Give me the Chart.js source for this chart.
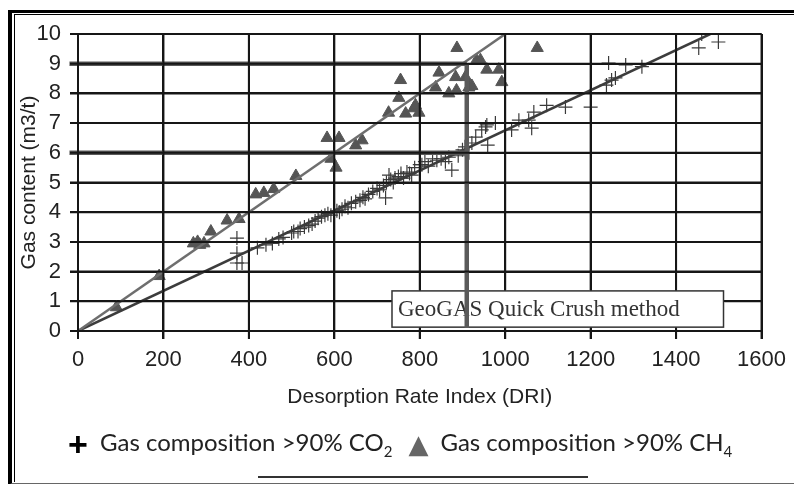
<!DOCTYPE html>
<html>
<head>
<meta charset="utf-8">
<script src="https://cdn.jsdelivr.net/npm/chart.js@4"></script>
<style>
  body { margin: 0; background: #fff; }
  #wrap { position: relative; width: 794px; height: 484px; overflow: hidden; }
  #frame { position: absolute; left: 8px; top: 10px; width: 820px; height: 470px;
           border-left: 4px solid #000; border-top: 3px solid #000; border-bottom: 2px solid #666; }
  #frame2 { position: absolute; left: 14px; top: 13.5px; width: 820px; height: 467px;
            border-left: 1.5px solid #000; border-top: 1.5px solid #000; }
  #chart { position: absolute; left: 0; top: 0; }
  #legend { position: absolute; left: 66px; top: 427px; display: flex; align-items: center;
            font-family: Lato, "Open Sans", sans-serif; font-size: 24px; color: #222; }
  #legend .item { display: flex; align-items: center; margin-right: 14px; }
  #legend .mk { display: inline-block; width: 24px; text-align: center; margin-right: 10px; }
  #legend sub { font-size: 15px; vertical-align: -6px; }
  #rule { position: absolute; left: 258px; top: 476px; width: 330px; height: 2px; background: #333; }
</style>
</head>
<body>
<div id="wrap">
  <div id="frame"></div>
  <div id="frame2"></div>
  <canvas id="chart" width="794" height="484"></canvas>
  <div id="legend"></div>
  <div id="rule"></div>
</div>
<script>
// CO2 rich samples (plus markers)
const co2X = [372, 372, 372, 384, 420, 440, 455, 470, 480, 500, 505, 515, 520, 530, 540, 548, 555, 562, 570, 578,
  585, 592, 600, 606, 612, 618, 625, 632, 640, 650, 660, 667, 672, 680, 690, 700, 706, 715, 720, 722,
  728, 732, 738, 742, 750, 756, 762, 770, 776, 781, 788, 800, 805, 812, 820, 830, 840, 850, 860, 868,
  875, 890, 900, 906, 915, 922, 931, 945, 954, 957, 959, 977, 1015, 1032, 1055, 1062, 1067, 1097, 1141, 1200,
  1200, 1237, 1249, 1258, 1242, 1282, 1320, 1453, 1460, 1499];
const co2Y = [3.13, 2.62, 2.29, 2.29, 2.8, 2.9, 2.95, 3.1, 3.15, 3.3, 3.35, 3.35, 3.45, 3.5, 3.55, 3.6, 3.7, 3.8, 3.85, 3.9,
  3.95, 3.9, 4.0, 4.05, 4.0, 4.1, 4.2, 4.15, 4.3, 4.35, 4.4, 4.5, 4.45, 4.6, 4.7, 4.8, 4.75, 4.9, 4.48, 5.0,
  5.25, 5.1, 5.0, 5.15, 5.2, 5.3, 5.15, 5.35, 5.3, 5.25, 5.5, 5.6, 5.6, 5.7, 5.55, 5.8, 5.75, 5.8, 5.7, 5.85,
  5.42, 5.9, 6.1, 6.2, 6.0, 6.33, 6.53, 6.77, 6.87, 6.94, 6.26, 7.0, 6.77, 7.1, 7.1, 6.83, 7.37, 7.6, 7.54, 8.0,
  7.54, 8.28, 8.45, 8.52, 9.02, 8.96, 8.9, 9.53, 10.0, 9.73];

// CH4 rich samples (triangles)
const ch4X = [90, 190, 270, 280, 285, 295, 311, 349, 377, 416, 435, 458, 510, 583, 592, 604, 611, 650, 665, 727,
  751, 755, 767, 786, 790, 798, 837, 845, 868, 884, 886, 887, 907, 915, 922, 933, 942, 957, 985, 992, 1075];
const ch4Y = [0.8, 1.85, 2.95, 3.0, 2.9, 2.95, 3.35, 3.72, 3.77, 4.6, 4.65, 4.78, 5.22, 6.5, 5.8, 5.5, 6.5, 6.25, 6.42, 7.35,
  7.85, 8.45, 7.32, 7.5, 7.6, 7.35, 8.2, 8.7, 8.0, 8.55, 8.1, 9.53, 8.55, 8.2, 8.25, 9.12, 9.12, 8.8, 8.8, 8.38, 9.53];

// trend lines through origin
const ch4FitX = [0, 1000], ch4FitY = [0, 10];
const co2FitX = [0, 1480], co2FitY = [0, 10];

// read-off lines: DRI 910 -> 6 and 9 m3/t
const readDRI = 910;
const readGas = [6, 9];
const readStart = -20;

const xStep = 200, xMax = 1600;
const yStep = 1, yMax = 10;

const seriesNames = ["Gas composition >90% CO|2", "Gas composition >90% CH|4"];
const noteText = "GeoGAS Quick Crush method";
const noteBox = { x0: 735, x1: 1511, y0: 0.13, y1: 1.35 };

const pts = (xs, ys) => xs.map((x, i) => ({ x: x, y: ys[i] }));

function boxPx(chart) {
  const { x, y } = chart.scales;
  const l = x.getPixelForValue(noteBox.x0), r = x.getPixelForValue(noteBox.x1);
  const t = y.getPixelForValue(noteBox.y1), b = y.getPixelForValue(noteBox.y0);
  return { l, r, t, b };
}

// text box under the data, grid from the scale ticks drawn around it
const notePlugin = {
  id: "note",
  beforeDatasetsDraw(chart) {
    const ctx = chart.ctx;
    const { l, r, t, b } = boxPx(chart);
    ctx.save();
    ctx.fillStyle = "#fff";
    ctx.fillRect(l, t, r - l, b - t);
    ctx.strokeStyle = "#333";
    ctx.lineWidth = 1.5;
    ctx.strokeRect(l, t, r - l, b - t);
    ctx.fillStyle = "#333";
    ctx.font = "23px 'Liberation Serif', serif";
    ctx.textBaseline = "middle";
    ctx.fillText(noteText, l + 6, (t + b) / 2 + 1);
    ctx.restore();
  },
  afterDatasetsDraw(chart) {
    const { ctx, chartArea: a, scales: { x, y } } = chart;
    const bx = boxPx(chart);
    ctx.save();
    ctx.beginPath();
    ctx.rect(0, 0, chart.width, chart.height);
    ctx.rect(bx.l - 1, bx.t - 1, bx.r - bx.l + 2, bx.b - bx.t + 2);
    ctx.clip("evenodd");
    ctx.strokeStyle = "#161616";
    ctx.lineWidth = 2;
    ctx.beginPath();
    for (let v = 0; v <= xMax; v += xStep) {
      const px = x.getPixelForValue(v);
      ctx.moveTo(px, a.top);
      ctx.lineTo(px, a.bottom + 8);
    }
    for (let v = 0; v <= yMax; v += yStep) {
      const py = y.getPixelForValue(v);
      ctx.moveTo(a.left - 8, py);
      ctx.lineTo(a.right, py);
    }
    ctx.stroke();
    ctx.restore();
  }
};

const refLines = readGas.map(g => ({
  type: "line",
  data: [{ x: readStart, y: g }, { x: readDRI, y: g }],
  borderColor: "#5a5a5a", borderWidth: 4.5, pointRadius: 0, clip: false, order: 1
}));

const tickFont = { family: "'Liberation Sans', Arial", size: 22 };
const titleFont = { family: "'Liberation Sans', Arial", size: 21 };

new Chart(document.getElementById("chart"), {
  type: "scatter",
  data: {
    datasets: [
      ...refLines,
      {
        type: "line",
        data: [{ x: readDRI, y: 0.1 }, { x: readDRI, y: readGas[1] }],
        borderColor: "#5a5a5a", borderWidth: 4.5, pointRadius: 0, order: 1
      },
      {
        type: "line", data: pts(ch4FitX, ch4FitY),
        borderColor: "#6e6e6e", borderWidth: 2.5, pointRadius: 0, order: 2
      },
      {
        type: "line", data: pts(co2FitX, co2FitY),
        borderColor: "#3c3c3c", borderWidth: 2.5, pointRadius: 0, order: 2
      },
      {
        data: pts(ch4X, ch4Y), pointStyle: "triangle", pointRadius: 7,
        backgroundColor: "#555", borderColor: "#555", borderWidth: 1, order: 3
      },
      {
        data: pts(co2X, co2Y), pointStyle: "cross", pointRadius: 7,
        borderColor: "#3a3a3a", borderWidth: 1.2, order: 3
      }
    ]
  },
  plugins: [notePlugin],
  options: {
    responsive: false,
    animation: false,
    layout: { padding: { left: 0, top: 34, right: 30, bottom: 73 } },
    plugins: { legend: { display: false }, tooltip: { enabled: false } },
    scales: {
      x: {
        type: "linear", min: 0, max: xMax,
        afterFit: s => { s.height = 80; },
        grid: { color: "#161616", lineWidth: 2, tickLength: 8 },
        border: { color: "#161616", width: 2 },
        ticks: { stepSize: xStep, color: "#222", padding: 8, maxRotation: 0, autoSkip: false, font: tickFont,
                 callback: v => String(v) },
        title: { display: true, text: "Desorption Rate Index (DRI)", color: "#222",
                 padding: { top: 0, bottom: 1 }, font: titleFont }
      },
      y: {
        type: "linear", min: 0, max: yMax,
        afterFit: s => { s.width = 78; },
        grid: { color: "#161616", lineWidth: 2, tickLength: 8 },
        border: { color: "#161616", width: 2 },
        ticks: { stepSize: yStep, color: "#222", padding: 9, autoSkip: false, font: tickFont,
                 callback: v => String(v) },
        title: { display: true, text: "Gas content (m3/t)", color: "#222",
                 padding: { top: 17, bottom: 0 }, font: titleFont }
      }
    }
  }
});

// legend with subscripts, built from the series names
const markers = ['<span class="mk" style="font:bold 34px \'Liberation Sans\';color:#000;line-height:20px">+</span>',
                 '<span class="mk" style="font:26px \'DejaVu Sans\';color:#666">&#9650;</span>'];
document.getElementById("legend").innerHTML = seriesNames.map((n, i) => {
  const [main, sub] = n.split("|");
  return '<span class="item">' + markers[i] + '<span>' + main + '<sub>' + sub + '</sub></span></span>';
}).join("");
</script>
</body>
</html>
